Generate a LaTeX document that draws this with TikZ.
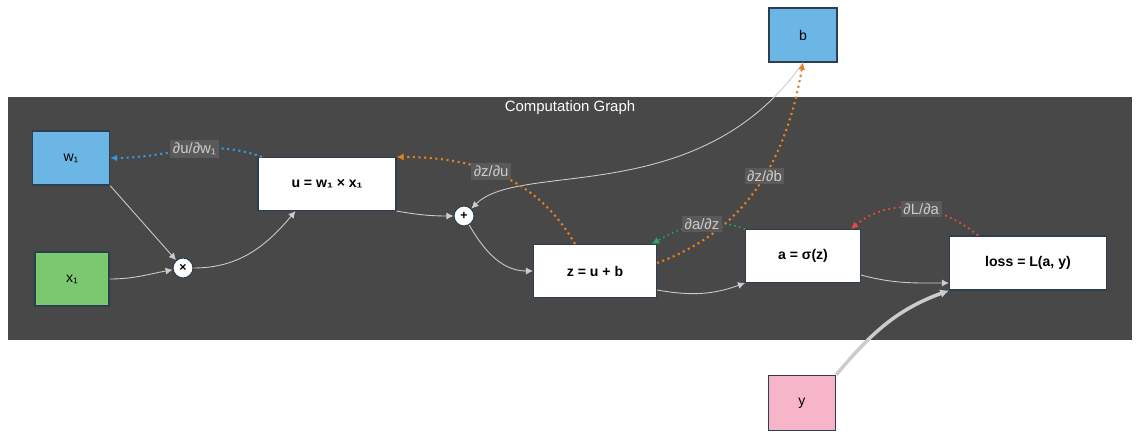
\documentclass[tikz,border=0pt]{standalone}
\usepackage{fontspec}
\setmainfont{Liberation Sans}
\usepackage{tikz}
\usetikzlibrary{arrows.meta,calc}
\definecolor{panel}{HTML}{474847}
\definecolor{edge}{HTML}{2C3E50}
\definecolor{leaf}{HTML}{6CB6E6}
\definecolor{green}{HTML}{7BC96F}
\definecolor{pink}{HTML}{F7B5C9}
\definecolor{gblue}{HTML}{3498DB}
\definecolor{gorange}{HTML}{E67E22}
\definecolor{ggreen}{HTML}{27AE60}
\definecolor{gred}{HTML}{E74C3C}
\definecolor{lblbg}{HTML}{5A5A5A}
\begin{document}
\begin{tikzpicture}[
    x=0.02cm,y=-0.02cm,font=\fontsize{8}{10}\selectfont,
    leafbox/.style={draw=edge, line width=0.8pt, minimum width=1.5cm, minimum height=1.08cm, inner sep=0pt},
    opbox/.style={draw=edge, fill=white, line width=0.6pt, inner sep=0pt, font=\fontsize{8}{10}\selectfont\bfseries},
    op/.style={circle, draw=edge, fill=white, line width=0.6pt, minimum size=0.4cm, inner sep=0pt, font=\fontsize{7}{8}\selectfont\bfseries},
    fwd/.style={-{Latex[length=4pt,width=4pt]}, draw=black!20, line width=0.5pt},
    grad/.style={-{Latex[length=4pt,width=4pt]}, dotted, line width=1.2pt},
    glabel/.style={fill=lblbg, text=black!20, inner sep=1.5pt, font=\fontsize{8.5}{10}\selectfont}
    ]
    \useasboundingbox (0,0) rectangle (1140,438);
    \fill[panel] (8,97) rectangle (1132,340);
    \node[text=white, font=\fontsize{8.5}{10}\selectfont] (title) at (570,108) {Computation Graph};
    % leaves
    \node[leafbox, fill=leaf, minimum width=1.54cm] (w1) at (71,158) {w₁};
    \node[leafbox, fill=green, minimum width=1.48cm] (x1) at (72,279) {x₁};
    \node[leafbox, fill=leaf, minimum width=1.36cm] (b) at (803,35) {b};
    \node[leafbox, fill=pink, minimum width=1.34cm, minimum height=1.1cm] (y) at (802,403) {y};
    % operations
    \node[op] (times) at (183,268) {×};
    \node[op] (plus) at (464,216) {+};
    \node[opbox, minimum width=2.76cm, minimum height=1.06cm] (u) at (327,184) {u = w₁ × x₁};
    \node[opbox, minimum width=2.46cm, minimum height=1.06cm] (z) at (595,271) {z = u + b};
    \node[opbox, minimum width=2.3cm, minimum height=1.06cm] (a) at (803,256) {a = σ(z)};
    \node[opbox, minimum width=3.14cm, minimum height=1.08cm] (loss) at (1028,263) {loss = L(a, y)};
    % forward
    \draw[fwd] (w1.south east) -- (times);
    \draw[fwd] (x1.east) to[out=0,in=190] (times);
    \draw[fwd] (times.east) to[out=0,in=230] ($(u.south west)+(38,0)$);
    \draw[fwd] (u.south east) to[out=-10,in=180] (plus);
    \draw[fwd] (b.south) .. controls (700,210) and (520,160) .. (plus);
    \draw[fwd] (plus) to[out=-60,in=180] (z.west);
    \draw[fwd] (z.east |- 0,290) to[out=-10,in=200] (a.south west);
    \draw[fwd] (a.east |- 0,275) to[out=-15,in=180] (loss.west |- 0,283);
    \draw[fwd, line width=2pt, -{Latex[length=5pt,width=5pt]}] (y.north east) to[out=50,in=200] (loss.south west);
    % gradients
    \draw[grad, gblue] ($(u.north)+(-65,0)$) to[out=160,in=0] node[glabel, pos=0.45] {∂u/∂w₁} (w1.east);
    \draw[grad, gorange] ($(z.north)+(-20,0)$) to[out=120,in=0] node[glabel, pos=0.55] {∂z/∂u} (u.north east);
    \draw[grad, gorange] (z.east |- 0,263) to[out=20,in=260] node[glabel, pos=0.55] {∂z/∂b} (b.south);
    \draw[grad, ggreen, line width=0.8pt] (a.north west) to[out=160,in=30] node[glabel, pos=0.45] {∂a/∂z} ($(z.north east)+(-5,0)$);
    \draw[grad, gred, line width=1pt] ($(loss.north)+(-50,0)$) to[out=140,in=40] node[glabel, pos=0.45] {∂L/∂a} ($(a.north east)+(-10,0)$);
\end{tikzpicture}
\end{document}
